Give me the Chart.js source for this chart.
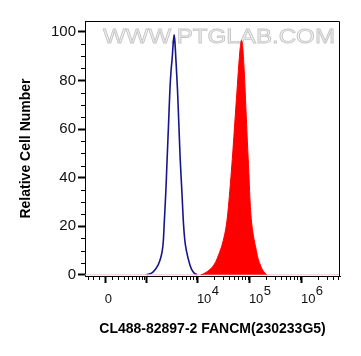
<!DOCTYPE html>
<html>
<head>
<meta charset="utf-8">
<script src="https://cdn.jsdelivr.net/npm/chart.js@4.4.1/dist/chart.umd.min.js"></script>
<style>html,body{margin:0;background:#fff}</style>
</head>
<body>
<canvas id="myChart" width="361" height="356"></canvas>
<script>
// control (blue outline) and stained sample (red filled), FL1 channel values
const blueX = [1003, 1264, 1469, 1706, 1884, 2043, 2156, 2234, 2411, 2555, 2720, 2883, 3041, 3193, 3339, 3491,
  3633, 3765, 4059, 4301, 4558, 4916, 5300, 5615, 6055, 7011, 7660, 8480, 9687];
const blueY = [0, 0.7, 2, 4.1, 6.5, 9.6, 14, 20.6, 34.4, 48, 62, 75.7, 84, 89, 95, 98.8,
  95, 89, 75.7, 62, 48, 34.4, 20.6, 14, 9.6, 4.1, 2, 0.7, 0];

const redX = [-360, 11400, 13000, 15600, 18600, 22200, 25300, 28900, 33000, 36100, 39400, 43100, 47100, 51400,
  56200, 61400, 65600, 69200, 73300, 78300, 83700, 89400, 95600, 99900, 104400, 111600, 119300, 130300,
  142400, 155600, 170000, 189900, 212200, 5400000];
const redY = [0, 0, 0.5, 1.5, 3, 5.5, 8.5, 12, 17, 22, 30, 40, 51, 63,
  75, 87, 94, 96.5, 93, 83, 69, 55, 42, 32, 25, 19, 15, 11,
  7, 4.5, 2.5, 1, 0, 0];

const xMajor = [0, 1000, 10000, 100000, 1000000];
const xLabelValues = [0, 10000, 100000, 1000000];
const xLabelBase = ['0', '10', '10', '10'];
const xLabelExp = ['', '4', '5', '6'];
const yTicks = [0, 20, 40, 60, 80, 100];

const xMin = -360, xMax = 5400000;
const yMin = -0.5, yMax = 104.5;

// biexponential-like display transform
const W = 340;
function tf(v) { return Math.asinh(v / W) / Math.LN10; }

class BiexScale extends Chart.LinearScale {
  getPixelForValue(v) {
    const a = tf(this.min), b = tf(this.max);
    return this.getPixelForDecimal((tf(v) - a) / (b - a));
  }
  getValueForPixel(p) {
    const a = tf(this.min), b = tf(this.max);
    return W * Math.sinh((a + this.getDecimalForPixel(p) * (b - a)) * Math.LN10);
  }
}
BiexScale.id = 'biex';
BiexScale.defaults = {};
Chart.register(BiexScale);

// minor ticks
const xMinor = [-300, -200, -100, 100];
for (let d = 100; d <= 1000000; d *= 10) {
  for (let k = 2; k <= 9; k++) {
    if (k * d < xMax) xMinor.push(k * d);
  }
}
const yMinor = [];
for (let v = 5; v < 105; v += 5) {
  if (v % 20 != 0) yMinor.push(v);
}

const extras = {
  id: 'extras',
  beforeDatasetsDraw(chart) {
    const ctx = chart.ctx;
    ctx.save();
    ctx.font = '20px "Liberation Sans", Arial';
    const txt = 'WWW.PTGLAB.COM';
    const w = ctx.measureText(txt).width;
    ctx.translate(103, 43);
    ctx.scale(232 / w, 1);
    ctx.fillStyle = '#f0f0f0';
    ctx.fillText(txt, 0, 0);
    ctx.strokeStyle = '#c6c6c6';
    ctx.lineWidth = 0.8;
    ctx.strokeText(txt, 0, 0);
    ctx.restore();
  },
  afterDraw(chart) {
    const ctx = chart.ctx;
    const a = chart.chartArea;
    const xs = chart.scales.x, ys = chart.scales.y;
    ctx.save();
    ctx.strokeStyle = '#000';
    ctx.lineWidth = 1;
    ctx.beginPath();
    ctx.moveTo(a.left, a.top + 0.5);
    ctx.lineTo(a.right - 0.5, a.top + 0.5);
    ctx.lineTo(a.right - 0.5, a.bottom);
    ctx.stroke();

    ctx.beginPath();
    for (const v of xMinor) {
      const px = Math.round(xs.getPixelForValue(v)) + 0.5;
      ctx.moveTo(px, a.bottom);
      ctx.lineTo(px, a.bottom + 4);
    }
    for (const v of yMinor) {
      const py = Math.round(ys.getPixelForValue(v)) + 0.5;
      ctx.moveTo(a.left - 4, py);
      ctx.lineTo(a.left, py);
    }
    ctx.stroke();

    ctx.fillStyle = '#111';
    ctx.font = '13px "Liberation Sans", Arial';
    ctx.textAlign = 'left';
    ctx.textBaseline = 'alphabetic';
    for (let i = 0; i < xLabelValues.length; i++) {
      const px = xs.getPixelForValue(xLabelValues[i]) - 1;
      ctx.fillText(xLabelBase[i], px, 303);
      if (xLabelExp[i]) {
        const w = ctx.measureText(xLabelBase[i]).width;
        ctx.fillText(xLabelExp[i], px + w + 0.5, 295);
      }
    }
    ctx.restore();
  }
};

const ctx = document.getElementById('myChart');

new Chart(ctx, {
  type: 'line',
  data: {
    datasets: [{
      data: redX.map((x, i) => ({x: x, y: redY[i]})),
      borderColor: '#ff0000',
      backgroundColor: '#ff0000',
      borderWidth: 1,
      fill: 'origin',
      pointRadius: 0,
      cubicInterpolationMode: 'monotone',
      segment: {
        borderColor: (c) => (c.p0.parsed.y == 0 && c.p1.parsed.y == 0) ? '#f2c4cf' : undefined
      }
    }, {
      data: blueX.map((x, i) => ({x: x, y: blueY[i]})),
      borderColor: '#16168c',
      borderWidth: 1.6,
      fill: false,
      pointRadius: 0,
      cubicInterpolationMode: 'monotone'
    }]
  },
  options: {
    responsive: false,
    animation: false,
    layout: {padding: {top: 21, right: 21, left: 0, bottom: 0}},
    plugins: {legend: {display: false}, tooltip: {enabled: false}},
    scales: {
      x: {
        type: 'biex',
        min: xMin,
        max: xMax,
        afterBuildTicks: (s) => { s.ticks = xMajor.map(v => ({value: v})); },
        afterFit: (s) => { s.height = 80; },
        ticks: {display: false},
        grid: {drawOnChartArea: false, tickLength: 7, tickWidth: 2, tickColor: '#000'},
        border: {color: '#000', width: 1},
        title: {
          display: true,
          text: 'CL488-82897-2 FANCM(230233G5)',
          color: '#000',
          font: {family: '"Liberation Sans", Arial', size: 14, weight: 'bold'},
          padding: {top: 0, bottom: 18}
        }
      },
      y: {
        type: 'linear',
        min: yMin,
        max: yMax,
        afterBuildTicks: (s) => { s.ticks = yTicks.map(v => ({value: v})); },
        afterFit: (s) => { s.width = 85; },
        ticks: {
          color: '#111',
          padding: 2,
          font: {family: '"Liberation Sans", Arial', size: 15}
        },
        grid: {drawOnChartArea: false, tickLength: 7, tickWidth: 2, tickColor: '#000'},
        border: {color: '#000', width: 1},
        title: {
          display: true,
          text: 'Relative Cell Number',
          color: '#000',
          font: {family: '"Liberation Sans", Arial', size: 14, weight: 'bold'},
          padding: {top: 18, bottom: 0}
        }
      }
    }
  },
  plugins: [extras]
});
</script>
</body>
</html>
